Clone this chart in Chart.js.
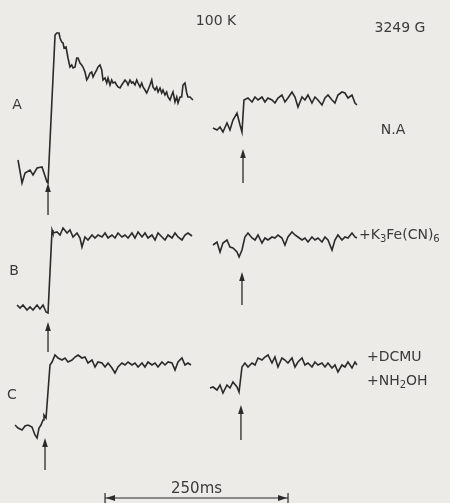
<!DOCTYPE html>
<html>
<head>
<meta charset="utf-8">
<script src="https://cdn.jsdelivr.net/npm/chart.js@4/dist/chart.umd.min.js"></script>
<style>
  html, body { margin: 0; padding: 0; background: #ecebe8; }
  #wrap { width: 450px; height: 503px; position: relative; }
</style>
</head>
<body>
<div id="wrap"><canvas id="c"></canvas></div>
<script>
// EPR signal II kinetics at 100 K, field 3249 G.
// Time in ms (flash at 0 ms for the rise, second flash near 266 ms for the decay sweep),
// signal in arbitrary units relative to each trace's dark baseline.

// ---- Trace A (no additions) ----
const tA1 = [-41,-35.5,-31.4,-24.6,-20.5,-15,-8.2,-4.1,-1.4,0,9.6,11.9,15,16.4,18.7,20.5,21.9,24.6,27.3,30,32.4,34.2,36.9,39.2,41,43.7,46,47.8,50.5,52.9,54.6,57.4,59.7,61.5,64.2,66.5,68.3,71,73.4,75.1,77.9,80.2,82,84.7,87,88.8,91.5,93.8,95.6,98.4,100.7,102.5,105.2,107.5,109.3,112,114.3,116.1,118.8,121.2,123,125.7,128,129.8,132.5,134.8,136.6,139.3,141.7,143.4,146.2,148.5,150.3,153,155.3,157.1,159.8,162.1,163.9,166.7,169,170.8,173.5,175.8,177.6,180.3,182.6,184.4,187.1,189.5,191.2,194,198];
const sA1 = [12,-11,-1,2,-3,4,5,-4,-10,-11,137,139,139,134,130,129,124,125,114,105,107,104,105,114,114,109,107,105,100,92,94,99,100,95,99,102,105,107,102,92,94,89,94,87,92,89,90,87,85,84,87,89,92,90,87,92,89,90,87,92,89,85,89,85,82,79,82,87,92,85,82,85,80,84,79,82,77,80,75,72,77,80,70,75,69,75,75,87,89,79,75,75,72];
const tA2 = [225.4,230.9,235,239,244.5,248.6,252.7,258.2,262.3,265,267.7,273.2,278.7,282.8,286.9,292.3,296.4,300.5,306,310,314.2,319.6,323.7,327.8,333.3,337.4,341.5,347,351,355.2,360.6,364.7,368.8,374.3,378.4,382.5,388,392,396.1,401.6,405.7,409.8,415.3,419.4,422];
const sA2 = [44,42,45,40,49,42,52,59,47,40,72,74,70,75,72,75,70,74,72,69,74,77,70,74,80,75,65,75,72,77,69,75,72,67,74,77,72,69,77,80,79,74,77,69,67];

// ---- Trace B (+K3Fe(CN)6) ----
const tB1 = [-42.3,-38.2,-34.2,-28.7,-24.6,-20.5,-15,-11,-6.8,-2.7,0,5.5,6.8,12.3,16.4,20.5,26,30,34.2,39.6,43.7,46.4,50.5,54.6,60.1,64.2,68.3,73.8,77.9,82,87.4,91.5,95.6,101,105.2,109.3,114.7,118.8,123,128.4,132.5,136.6,142,146.2,150.3,155.7,159.8,164,169.4,173.5,177.6,183,187.1,191.2,196.7];
const sB1 = [2,-1,2,-3,0,-3,2,-2,2,-5,-6,77,74,75,72,79,74,77,70,74,69,60,70,67,72,69,72,70,74,69,72,69,74,70,72,69,74,69,75,70,74,69,72,67,74,70,67,72,69,74,70,67,72,74,71];
const tB2 = [225.4,230.9,235,239,244.5,248.6,252.7,258.2,261,265,269,273.2,278.7,282.8,286.9,292.3,296.4,300.5,306,310,314.2,319.6,323.7,327.8,333.3,337.4,341.5,347,351,355.2,360.6,364.7,368.8,374.3,378.4,382.5,388,392,396.1,401.6,405.7,409.8,415.3,419.4,422];
const sB2 = [62,65,55,64,67,60,59,55,50,57,70,74,69,67,72,64,69,67,70,69,72,69,62,70,75,72,70,67,69,65,70,67,69,65,70,67,57,67,72,67,70,69,74,70,69];

// ---- Trace C (+DCMU +NH2OH) ----
const tC1 = [-45,-41,-35.5,-31.4,-27.3,-21.9,-17.8,-15,-12.3,-9.6,-6.8,-5.5,-2.7,2.7,5.5,9.6,13.7,19.1,23.2,27.3,32.8,36.9,41,46.4,50.5,54.6,60.1,64.2,68.3,73.8,77.9,82,87.4,91.5,95.6,101,105.2,109.3,114.7,118.8,123,128.4,132.5,136.6,142,146.2,150.3,155.7,159.8,164,169.4,173.5,177.6,183,187.1,191.2,195.3];
const sC1 = [2,-1,-3,1,2,0,-8,-11,-1,2,7,12,9,62,65,72,69,67,69,65,67,70,72,69,70,64,67,60,65,64,60,64,59,54,60,64,62,65,62,64,60,64,60,65,62,64,60,65,62,65,64,57,65,69,62,64,62];
const tC2 = [221.3,225.4,230.9,235,239,244.5,248.6,252.7,258.2,261,265,269,273.2,278.7,282.8,286.9,292.3,296.4,300.5,306,310,314.2,319.6,323.7,327.8,333.3,337.4,341.5,347,351,355.2,360.6,364.7,368.8,374.3,378.4,382.5,388,392,396.1,401.6,405.7,409.8,415.3,419.4,422];
const sC2 = [39,40,37,42,34,42,39,45,40,35,60,64,60,64,62,69,67,70,72,64,70,60,69,67,64,69,60,65,69,62,64,60,65,62,64,60,64,59,62,55,62,60,65,59,65,62];

// Flash arrows: time of flash per trace (rise sweep, decay sweep)
const flashA = [0, 266.4];
const flashB = [0, 265];
const flashC = [-4.1, 263.6];

// Time-scale bar
const scaleBarStart = 77.9;   // ms
const scaleBarLength = 250;   // ms
const scaleBarLabel = '250ms';

// ---- layout (vertical stacking of the traces, in y-axis units) ----
const offA = 331, offB = 196, offC = 76;
const X_MIN = -65.6, X_MAX = 549.2;
const INK = '#2a2a2a';

function pts(ts, ss, off) {
  return ts.map((t, i) => ({ x: t, y: ss[i] + off }));
}
function ds(ts, ss, off) {
  return {
    data: pts(ts, ss, off),
    borderColor: INK,
    borderWidth: 1.6,
    pointRadius: 0,
    tension: 0,
    fill: false,
    borderJoinStyle: 'miter'
  };
}

// arrow spec: [time, tipY, tailY] in signal units relative to trace offset
const arrows = [
  [flashA[0], -11, -43, offA], [flashA[1], 23, -11, offA],
  [flashB[0], -15, -45, offB], [flashB[1], 35, 2, offB],
  [flashC[0], -11, -43, offC], [flashC[1], 22, -13, offC]
];

const FONT = '"DejaVu Sans", sans-serif';
const TEXT = '#3a3a3a';

function drawRuns(ctx, x, y, runs, size) {
  // runs: [text, isSubscript]
  let cx = x;
  for (const [txt, sub] of runs) {
    ctx.font = (sub ? Math.round(size * 0.7) : size) + 'px ' + FONT;
    ctx.fillText(txt, cx, sub ? y + size * 0.28 : y);
    cx += ctx.measureText(txt).width;
  }
}

const overlay = {
  id: 'overlay',
  afterDatasetsDraw(chart) {
    const ctx = chart.ctx;
    const xs = chart.scales.x, ys = chart.scales.y;
    ctx.save();
    ctx.strokeStyle = INK;
    ctx.fillStyle = INK;
    ctx.lineWidth = 1.3;

    // flash arrows
    for (const [t, tip, tail, off] of arrows) {
      const x = xs.getPixelForValue(t);
      const y0 = ys.getPixelForValue(off + tip);
      const y1 = ys.getPixelForValue(off + tail);
      ctx.beginPath();
      ctx.moveTo(x, y0 + 6);
      ctx.lineTo(x, y1);
      ctx.stroke();
      ctx.beginPath();
      ctx.moveTo(x, y0);
      ctx.lineTo(x - 2.8, y0 + 9);
      ctx.lineTo(x + 2.8, y0 + 9);
      ctx.closePath();
      ctx.fill();
    }

    // scale bar
    const bx0 = xs.getPixelForValue(scaleBarStart);
    const bx1 = xs.getPixelForValue(scaleBarStart + scaleBarLength);
    const by = ys.getPixelForValue(5);
    ctx.lineWidth = 1.2;
    ctx.beginPath();
    ctx.moveTo(bx0, by); ctx.lineTo(bx1, by);
    ctx.moveTo(bx0, by - 5); ctx.lineTo(bx0, by + 6);
    ctx.moveTo(bx1, by - 5); ctx.lineTo(bx1, by + 6);
    ctx.stroke();
    ctx.beginPath();
    ctx.moveTo(bx0 + 1, by); ctx.lineTo(bx0 + 10, by - 3); ctx.lineTo(bx0 + 10, by + 3); ctx.closePath();
    ctx.moveTo(bx1 - 1, by); ctx.lineTo(bx1 - 10, by - 3); ctx.lineTo(bx1 - 10, by + 3); ctx.closePath();
    ctx.fill();

    // texts
    ctx.fillStyle = TEXT;
    ctx.textBaseline = 'middle';
    ctx.font = '14px ' + FONT;
    ctx.textAlign = 'center';
    ctx.fillText('100 K', 216, 21);
    ctx.fillText('3249 G', 400, 28);
    ctx.fillText('A', 17, 105);
    ctx.fillText('B', 14, 271);
    ctx.fillText('C', 12, 395);
    ctx.fillText('N.A', 393, 130);
    ctx.font = '15px ' + FONT;
    ctx.fillText(scaleBarLabel, (bx0 + bx1) / 2, 489);
    ctx.textAlign = 'left';
    drawRuns(ctx, 359, 235, [['+K', false], ['3', true], ['Fe(CN)', false], ['6', true]], 14);
    drawRuns(ctx, 367, 357, [['+DCMU', false]], 14);
    drawRuns(ctx, 367, 381, [['+NH', false], ['2', true], ['OH', false]], 14);
    ctx.restore();
  }
};

new Chart(document.getElementById('c'), {
  type: 'line',
  data: {
    datasets: [
      ds(tA1, sA1, offA), ds(tA2, sA2, offA),
      ds(tB1, sB1, offB), ds(tB2, sB2, offB),
      ds(tC1, sC1, offC), ds(tC2, sC2, offC)
    ]
  },
  options: {
    responsive: true,
    maintainAspectRatio: false,
    animation: false,
    layout: { padding: 0 },
    plugins: { legend: { display: false }, tooltip: { enabled: false } },
    scales: {
      x: { type: 'linear', min: X_MIN, max: X_MAX, display: false },
      y: { type: 'linear', min: 0, max: 503, display: false }
    }
  },
  plugins: [overlay]
});
</script>
</body>
</html>
